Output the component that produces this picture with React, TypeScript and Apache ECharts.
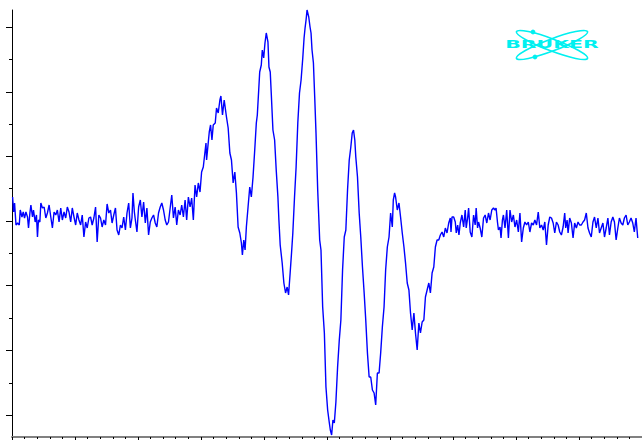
import React, { useEffect, useRef } from "react";
import * as echarts from "echarts";

// Field positions (arbitrary field units) paired with signal intensity (arb. units)
const leftBaseline: [number, number][] = [
  [13.3, 24], [14.3, 9], [15.3, 18], [16.7, -4], [18.3, -2], [20, -4], [21, 11], [22.7, 4], [24, 9], [25.3, 3],
  [26.7, 9], [28.3, 4], [29.3, -7], [30.7, 8], [31.7, 16], [33.3, 4], [34.3, 11], [36, -1], [37.3, 6], [38.3, -16],
  [39.3, 1], [40.7, -1], [41.7, 18], [43.3, 13], [45, 14], [46.7, 3], [48.3, 8], [50, 16], [51.7, 4], [53.3, -7],
  [55, 9], [56.7, 6], [58.3, 11], [60, -1], [61.7, 13], [63.3, 1], [65, 9], [66.7, 3], [68.3, 14], [70, 9],
  [71.7, -1], [73.3, 13], [75, 4], [76.7, -4], [78.3, 8], [80, 1], [81.7, -4], [83.3, 6], [85, -16], [86.7, -1],
  [88.3, -7], [90, 3], [91.7, 4], [93.3, -4], [95, 3], [96.7, 14], [98.3, -21], [100, 6], [101.7, 3], [103.3, -6],
  [105, 1], [106.7, -4], [108.3, 17], [110, 8], [111.7, 11], [113.3, -2], [115, 6], [116.7, 13], [118.3, -9], [120, -14],
  [121.7, -4], [123.3, -7], [125, 4], [126.7, -9], [128.3, 8], [130, 18], [131.7, -7], [133.3, 3], [134.3, 28], [135.7, 9],
  [136.7, 1], [138.3, -11], [140, 14], [141.7, 21], [143.3, 4], [145, 19], [146.7, -2], [148.3, 13], [150, -14], [151.7, -1],
  [153.3, 3], [155, 6], [156.7, -2], [158.3, -6], [160, 8], [161.7, 14], [163.3, 18], [165, 11], [166.7, 1], [168.3, -4],
  [170, -1], [171.7, 13], [173.3, 26], [175, 3], [176.7, 14], [178.3, -4], [180, 11], [181.7, 6], [183.3, 16], [185, 4],
  [186.7, 21], [188.3, 1], [190, 24], [191.7, 14], [193.3, 23], [195, 1],
];

const hyperfineLines: [number, number][] = [
  [196.7, 36], [198.3, 24], [200, 38], [201.7, 29], [203.3, 49], [205, 54], [207.7, 78], [208.3, 61], [211, 89], [212.3, 96],
  [213.7, 81], [215, 96], [217, 98], [218.3, 113], [220, 108], [221.7, 121], [222.7, 125], [224.3, 106], [226, 121], [228.3, 104],
  [230, 93], [231.7, 68], [233.3, 61], [235, 38], [236.7, 49], [238.3, 28], [240, -6], [241.7, -12], [243.3, -22], [244.3, -34],
  [245.7, -19], [247, -29], [248.3, -6], [250, 14], [251.7, 34], [253.3, 24], [255, 44], [256.7, 71], [258.3, 98], [259.3, 106],
  [260.7, 131], [261.7, 149], [263.3, 156], [264.3, 171], [265.7, 163], [267, 178], [268.3, 188], [270, 179], [271, 154], [272.3, 149],
  [273.3, 128], [275, 91], [276.7, 81], [278.3, 51], [280, 24], [281, 1], [282.3, -24], [284.3, -42], [286, -62], [287.7, -72],
  [289.3, -66], [290.7, -74], [292.3, -52], [293.7, -32], [295, -12], [296.7, 24], [298.3, 54], [300, 98], [301.7, 128], [303.3, 141],
  [305, 163], [306.3, 183], [307.3, 193], [308.3, 201], [309.3, 211], [311, 204], [312.3, 194], [313.3, 188], [314.3, 171], [315.7, 158],
  [317, 124], [318.3, 88], [320, 31], [322, -19], [323.3, -29], [325, -86], [326.7, -112], [328.3, -166], [330, -189], [331.7, -202],
  [332.7, -209], [334, -214], [335.3, -199], [336.7, -202], [338.3, -181], [340, -146], [341.7, -119], [343.3, -99], [345, -49], [346.7, -16],
  [348.3, -9], [350, 31], [351.7, 61], [353.3, 74], [354.7, 88], [356, 91], [357.3, 81], [358.3, 64], [360, 44], [361.7, 8],
  [363.3, -16], [365, -46], [366.7, -72], [368.3, -99], [370, -132], [371.7, -156], [373.3, -156], [375, -169], [376.7, -172], [378.3, -184],
  [380, -152], [381.7, -152], [383.3, -132], [385, -106], [386.7, -86], [388.3, -49], [390, -26], [391.7, -16], [393.3, 8], [395, -6],
  [396, 21], [397.3, 28], [398.3, 24], [400, 11], [401.7, 18], [403.3, 4], [405, -12], [406.7, -26], [408.3, -42], [410, -62],
  [411.7, -69], [413.3, -92], [415, -109], [416.7, -92], [418.3, -112], [420, -129], [421.7, -102], [423.3, -112], [425, -101], [426.7, -99],
  [428.3, -76], [430, -69], [431.7, -62], [433.3, -72], [435, -52], [436.7, -46], [438.3, -26], [440, -19], [441.7, -19], [443.3, -14],
  [445, -11], [446.7, -16], [448.3, -7],
];

const rightBaseline: [number, number][] = [
  [450, -12], [451.7, -2], [453.3, 3], [454, -11], [455, 4], [456.7, 4], [458.3, -1], [459.3, -12], [460.7, -4], [462, -14],
  [463.3, -2], [465, 6], [466.7, -6], [468.3, 11], [469.3, -7], [470.7, 3], [471.7, 13], [473.3, -11], [475, -16], [476.7, 6],
  [478.3, -4], [479.3, 13], [480.7, -7], [481.7, -1], [483.3, -7], [485, -16], [486.7, 3], [488.3, 6], [490, -2], [491.7, 8],
  [493.3, 1], [495, 11], [496.7, 13], [498.3, 11], [499.3, 13], [500.7, -1], [501.7, -9], [503.3, -6], [504.3, -17], [505.7, 1],
  [506.7, 6], [508.3, -7], [510, 11], [511.7, -17], [513.3, 11], [515, -1], [516.7, 6], [518.3, -6], [520, 1], [521.7, -11],
  [523.3, 8], [525, -21], [526.7, -7], [528.3, -1], [530, -4], [531.7, -1], [533.3, -11], [535, -2], [536.7, -4], [538.3, 1],
  [540, -4], [541.7, 9], [543.3, -7], [545, -4], [546.7, -9], [548.3, -1], [550, -24], [551.7, -4], [553.3, 4], [555, 3],
  [556.7, -2], [558.3, -12], [560, -1], [561.7, -4], [563.3, -11], [565, -14], [566.7, -6], [568.3, 8], [569.3, -7], [570.7, 1],
  [571.7, -12], [573.3, 3], [575, -2], [576.7, -17], [578.3, -2], [580, -7], [581.7, -1], [583.3, -4], [585, -4], [586.7, -1],
  [588.3, 1], [590, 8], [591.7, -7], [593.3, -12], [595, -16], [596.7, -1], [598.3, 4], [600, -7], [601.7, 3], [603.3, -12],
  [605, -7], [606.7, -2], [608.3, -16], [610, -7], [611.7, 3], [613.3, -14], [615, -1], [616.7, 4], [618.3, -1], [620, -19],
  [621.7, -7], [623.3, 3], [625, -2], [626.7, -4], [628.3, 3], [630, 6], [631.7, -4], [633.3, -1], [635, 3], [636.7, -2],
  [638.3, -11], [640, 3], [641.7, -17],
];

// Axis extents and tick positions (same units as data)
const xRange = [12.7, 646];
const yRange = [-216, 211];
const xMajorTicks = [12.7, 76, 139.3, 202.7, 266, 329.3, 392.7, 456, 519.3, 582.7];
const xMinorTicks = [
  25.4, 38, 50.7, 63.3, 88.7, 101.3, 114, 126.7, 152, 164.7, 177.3, 190, 215.3, 228, 240.7, 253.3,
  278.7, 291.3, 304, 316.7, 342, 354.7, 367.3, 380, 405.3, 418, 430.7, 443.3, 468.7, 481.3, 494, 506.7,
  532, 544.7, 557.3, 570, 595.3, 608, 620.7, 633.3,
];
const yMajorTicks = [-194, -129.7, -64.7, 0, 64.7, 129, 193.7];
const yMinorTicks = [-162, -97, -32, 33, 97, 161.7];

export default function App() {
  const ref = useRef<HTMLDivElement>(null);
  useEffect(() => {
    if (!ref.current) return;
    const chart = echarts.init(ref.current, null, { renderer: "svg" });
    const spectrum = [...leftBaseline, ...hyperfineLines, ...rightBaseline];
    const cyan = "#00f0f0";
    chart.setOption({
      animation: false,
      grid: { left: 12, right: -4, top: 10, bottom: 3 },
      xAxis: [
        {
          type: "value", min: xRange[0], max: xRange[1], position: "bottom",
          axisLine: { show: true, onZero: false, lineStyle: { color: "#808080", width: 2 } },
          axisTick: { show: true, customValues: xMajorTicks, length: 4, lineStyle: { color: "#000" } },
          axisLabel: { show: false }, splitLine: { show: false },
        },
        {
          type: "value", min: xRange[0], max: xRange[1], position: "bottom", offset: 0,
          axisLine: { show: false, onZero: false },
          axisTick: { show: true, customValues: xMinorTicks, length: 2, lineStyle: { color: "#000" } },
          axisLabel: { show: false }, splitLine: { show: false },
        },
      ],
      yAxis: [
        {
          type: "value", min: yRange[0], max: yRange[1], position: "left",
          axisLine: { show: true, onZero: false, lineStyle: { color: "#000", width: 1 } },
          axisTick: { show: true, customValues: yMajorTicks, length: 6, lineStyle: { color: "#000" } },
          axisLabel: { show: false }, splitLine: { show: false },
        },
        {
          type: "value", min: yRange[0], max: yRange[1], position: "left", offset: 0,
          axisLine: { show: false, onZero: false },
          axisTick: { show: true, customValues: yMinorTicks, length: 3, lineStyle: { color: "#000" } },
          axisLabel: { show: false }, splitLine: { show: false },
        },
      ],
      series: [
        {
          type: "line",
          data: spectrum,
          xAxisIndex: 0,
          yAxisIndex: 0,
          showSymbol: false,
          symbol: "none",
          lineStyle: { color: "#0000ff", width: 1.4 },
          clip: false,
        },
      ],
      graphic: [
        {
          type: "group",
          x: 552,
          y: 45,
          children: [
            { type: "ellipse", rotation: 0.36, shape: { cx: 0, cy: 0, rx: 38, ry: 6 }, style: { fill: "none", stroke: cyan, lineWidth: 1.6 } },
            { type: "ellipse", rotation: -0.36, shape: { cx: 0, cy: 0, rx: 38, ry: 6 }, style: { fill: "none", stroke: cyan, lineWidth: 1.6 } },
            { type: "circle", shape: { cx: -19, cy: -13, r: 2.4 }, style: { fill: cyan } },
            { type: "circle", shape: { cx: -17, cy: 12, r: 2.4 }, style: { fill: cyan } },
            {
              type: "text", x: 0, y: 0, scaleX: 2.05,
              style: { text: "BRUKER", fill: cyan, font: 'bold 10px "DejaVu Sans"', align: "center", verticalAlign: "middle" },
            },
          ],
        },
      ],
    });
    return () => chart.dispose();
  }, []);
  return (
    <div style={{ position: "fixed", left: 0, top: 0, width: 642, height: 440, overflow: "hidden", background: "#fff" }}>
      <div ref={ref} style={{ width: 642, height: 440 }} />
    </div>
  );
}
